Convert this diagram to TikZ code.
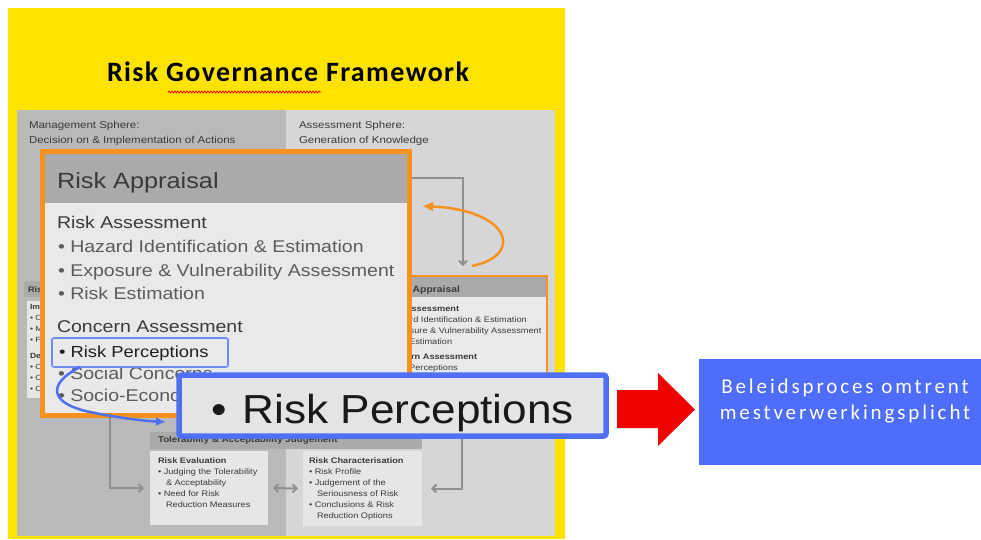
\documentclass[tikz,border=0pt]{standalone}
\usepackage{fontspec}
\setmainfont{Liberation Sans}
\newfontfamily\helv[FakeStretch=1.15]{Liberation Sans}
\newfontfamily\helvbig[FakeStretch=1.09]{Liberation Sans}
\newfontfamily\titlefont[LetterSpace=5]{Carlito}
\newfontfamily\boxfont[LetterSpace=13.7]{Carlito}
\usetikzlibrary{arrows.meta,decorations.pathmorphing}

\newcommand\setfs[1]{\fontsize{#1}{#1}\selectfont}

\definecolor{frameyellow}{RGB}{255,227,0}
\definecolor{mgmtgray}{RGB}{185,184,187}
\definecolor{assgray}{RGB}{214,213,216}
\definecolor{hdrgray}{RGB}{170,169,172}
\definecolor{bodygray}{RGB}{233,232,235}
\definecolor{cardwhite}{RGB}{230,229,232}
\definecolor{orng}{RGB}{247,146,30}
\definecolor{blu}{RGB}{79,112,245}
\definecolor{hlblue}{RGB}{110,140,245}
\definecolor{zoomgray}{RGB}{228,227,230}
\definecolor{boxblue}{RGB}{78,109,252}
\definecolor{arrowred}{RGB}{240,0,0}
\definecolor{linegray}{RGB}{143,142,145}
\definecolor{darktext}{RGB}{58,58,58}
\definecolor{softtext}{RGB}{92,92,92}

\begin{document}
\begin{tikzpicture}[x=1pt,y=-1pt,
  txt/.style={anchor=base west, inner sep=0pt, outer sep=0pt},
  panel/.style={rectangle, anchor=north west, inner sep=0pt, outer sep=0pt},
  sphere/.style={txt, font=\helv\setfs{10}, text=darktext},
  big/.style={txt, font=\helv\setfs{17}, text=darktext},
  bigitem/.style={txt, font=\helv\setfs{17}, text=softtext},
  mini/.style={txt, font=\helv\setfs{8}, text=darktext},
  minihead/.style={txt, font=\helv\bfseries\setfs{8}, text=darktext},
  tiny/.style={txt, font=\helv\setfs{7.5}, text=darktext},
  tinyhead/.style={txt, font=\helv\bfseries\setfs{7.5}, text=darktext},
  flow/.style={linegray, line width=2pt, -{Straight Barb[length=4pt,width=8pt]}},
  flowboth/.style={linegray, line width=2pt, {Straight Barb[length=4pt,width=8pt]}-{Straight Barb[length=4pt,width=8pt]}}]

% canvas
\path[use as bounding box] (0,0) rectangle (981,539);
\fill[white] (0,0) rectangle (981,539);

% yellow frame and title
\node[panel, fill=frameyellow, minimum width=557pt, minimum height=531pt] (frame) at (8,8) {};
\node[txt, font=\titlefont\bfseries\setfs{28}] (title) at (107,81) {Risk Governance Framework};
\draw[red, line width=0.8pt, decorate, decoration={snake, amplitude=0.9pt, segment length=3pt}] (168,92) -- (321,92);

% two spheres
\node[panel, fill=mgmtgray, minimum width=270pt, minimum height=426pt] (mgmt) at (17,110) {};
\node[panel, fill=assgray, minimum width=269pt, minimum height=426pt] (asmt) at (286,110) {};
\node[sphere] (ms1) at (29,128) {Management Sphere:};
\node[sphere] (ms2) at (29,143) {Decision on \& Implementation of Actions};
\node[sphere] (as1) at (299,128) {Assessment Sphere:};
\node[sphere] (as2) at (299,143) {Generation of Knowledge};

% risk management box (left), mostly covered by the appraisal
\node[panel, fill=hdrgray, minimum width=176pt, minimum height=16pt] (rmhead) at (24,281) {};
\node[panel, fill=cardwhite, minimum width=173pt, minimum height=97pt] (rmcard) at (27,301) {};
\begin{scope}
  \clip (24,281) rectangle (40,400);
  \node[minihead] (rmtitle) at (28,292) {Risk Management};
  \node[tinyhead] (rm1) at (30,309) {Implementation};
  \node[tiny] (rm2) at (30,320) {• Option Realisation};
  \node[tiny] (rm3) at (30,331) {• Monitoring \& Control};
  \node[tiny] (rm4) at (30,342) {• Feedback from Risk Mgmt. Practice};
  \node[tinyhead] (rm5) at (30,358) {Decision Making};
  \node[tiny] (rm6) at (30,369) {• Option Identification \& Generation};
  \node[tiny] (rm7) at (30,380) {• Option Assessment};
  \node[tiny] (rm8) at (30,391) {• Option Evaluation \& Selection};
\end{scope}

% risk appraisal box (right, small)
\node[panel, draw=orng, line width=1.5pt, fill=bodygray, minimum width=175pt, minimum height=150pt] (sapp) at (372,276) {};
\node[panel, fill=hdrgray, minimum width=173.5pt, minimum height=20pt] (sapphead) at (372.75,276.75) {};
\node[txt, font=\helv\bfseries\setfs{9}, text=darktext] (sa0) at (388,292) {Risk Appraisal};
\node[minihead] (sa1) at (383,311) {Risk Assessment};
\node[mini] (sa2) at (383,322) {• Hazard Identification \& Estimation};
\node[mini] (sa3) at (383,333) {• Exposure \& Vulnerability Assessment};
\node[mini] (sa4) at (383,344) {• Risk Estimation};
\node[minihead] (sa5) at (383,359) {Concern Assessment};
\node[mini] (sa6) at (383,370) {• Risk Perceptions};

% pre-assessment feed into the appraisal
\coordinate (pre) at (400,178);
\coordinate (dropx) at (463,0);
\draw[flow, shorten >=10pt] (pre) -| (sapp.north -| dropx);

% zoomed risk appraisal
\node[panel, draw=orng, line width=5pt, fill=bodygray, minimum width=367.5pt, minimum height=264pt] (appr) at (42,151.5) {};
\node[panel, fill=hdrgray, minimum width=362.5pt, minimum height=48.5pt] (apprhead) at (44.5,154) {};
\node[txt, font=\helv\setfs{22}, text=darktext] (ra) at (57,188) {Risk Appraisal};
\node[big] (ra1) at (57,228) {Risk Assessment};
\node[bigitem] (ra2) at (58,252) {• Hazard Identification \& Estimation};
\node[bigitem] (ra3) at (58,276) {• Exposure \& Vulnerability Assessment};
\node[bigitem] (ra4) at (58,299) {• Risk Estimation};
\node[big] (ra5) at (57,332) {Concern Assessment};
\node[txt, font=\helv\setfs{16}, text=black!88] (ra6) at (59,357) {• Risk Perceptions};
\node[bigitem] (ra7) at (58,379) {• Social Concerns};
\node[bigitem] (ra8) at (58,401) {• Socio-Economic Impacts};
\node[panel, draw=hlblue, line width=1.6pt, rounded corners=2pt, minimum width=176pt, minimum height=29pt] (rphl) at (52,338) {};

% loop back from the appraisal
\coordinate (loopstart) at (472,266);
\coordinate (loopend) at (422,206);
\draw[orng, line width=2.5pt, -{Latex[length=11pt,width=10pt]}] (loopstart) .. controls (525,255) and (510,210) .. (loopend);

% tolerability & acceptability judgement
\node[panel, fill=hdrgray, minimum width=272pt, minimum height=17pt] (tajhead) at (150,432) {};
\node[txt, font=\helv\bfseries\setfs{8.5}, text=darktext] (taj) at (158,442) {Tolerability \& Acceptability Judgement};
\node[panel, fill=cardwhite, minimum width=118pt, minimum height=74pt] (reval) at (150,451) {};
\node[panel, fill=cardwhite, minimum width=119pt, minimum height=75pt] (rchar) at (303,451) {};
\node[minihead] (re1) at (158,463) {Risk Evaluation};
\node[mini] (re2) at (158,474) {• Judging the Tolerability};
\node[mini] (re3) at (166,485) {\& Acceptability};
\node[mini] (re4) at (158,496) {• Need for Risk};
\node[mini] (re5) at (166,507) {Reduction Measures};
\node[minihead] (rc1) at (309,463) {Risk Characterisation};
\node[mini] (rc2) at (309,474) {• Risk Profile};
\node[mini] (rc3) at (309,485) {• Judgement of the};
\node[mini] (rc4) at (317,496) {Seriousness of Risk};
\node[mini] (rc5) at (309,507) {• Conclusions \& Risk};
\node[mini] (rc6) at (317,518) {Reduction Options};

% flows around the judgement
\coordinate (leftdrop) at (110,417);
\coordinate (rightdrop) at (462,430);
\draw[flow, shorten >=6pt] (leftdrop) |- (reval.west);
\draw[flowboth, shorten >=5pt, shorten <=5pt] (reval.east) -- (rchar.west);
\draw[flow, shorten >=9pt] (rightdrop) |- (rchar.east);

% enlarged item
\node[panel, draw=blu, line width=5.5pt, fill=zoomgray, rounded corners=2.5pt, minimum width=427pt, minimum height=61pt] (zoomrp) at (179,375) {};
\node[txt, font=\helvbig\setfs{40.5}, text=black!90] (zoomtxt) at (211,423) {•\hspace{4pt} Risk Perceptions};
\coordinate (zoomin) at (166,422);
\draw[blu, line width=2.5pt, -{Latex[length=10pt,width=9pt]}] (rphl.south west) ++(28,0) .. controls (45,385) and (50,405) .. (95,413) .. controls (120,418) and (145,421) .. (zoomin);

% link to the policy process
\fill[arrowred] (617,390) -- (658,390) -- (658,373) -- (695,409.5) -- (658,446) -- (658,428) -- (617,428) -- cycle;
\node[panel, fill=boxblue, minimum width=282pt, minimum height=106pt] (policy) at (699,359) {};
\node[anchor=base, inner sep=0pt, font=\boxfont\setfs{21}, text=white] (pol1) at (845,393) {Beleidsproces omtrent};
\node[anchor=base, inner sep=0pt, font=\boxfont\setfs{21}, text=white] (pol2) at (845,419) {mestverwerkingsplicht};
\end{tikzpicture}
\end{document}
